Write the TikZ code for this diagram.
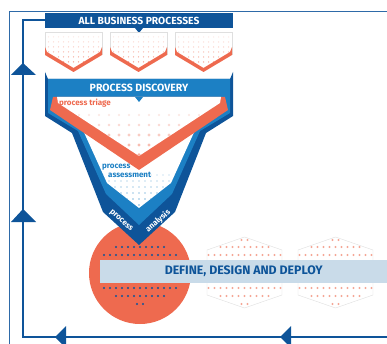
\documentclass[tikz,border=0pt]{standalone}
\usepackage{fontspec}
\setmainfont{Fira Sans}
\definecolor{dkblue}{RGB}{14,84,153}
\definecolor{mdblue}{RGB}{28,128,196}
\definecolor{orng}{RGB}{238,106,79}
\definecolor{ltblue}{RGB}{201,219,233}
\definecolor{framecol}{RGB}{46,106,168}
\tikzset{
  loopline/.style={dkblue,line width=2pt},
  looptip/.style={fill=dkblue},
  dotrow/.style={fill=#1},
  label/.style={inner sep=0pt,font=\bfseries\fontsize{#1}{#1}\selectfont}
}
\begin{document}
\begin{tikzpicture}[x=1pt,y=-1pt]
        \useasboundingbox (0,0) rectangle (387,344);
        % outer frame
        \draw[framecol,line width=1pt] (387,12) -- (9,12) -- (9,344);

        % top bar
        \node[label=10.3,fill=dkblue,text=white,minimum width=188pt,minimum height=15pt](abp)at(139,20.5){ALL BUSINESS PROCESSES};
        \fill[dkblue] (135,28) -- (143,28) -- (139,33) -- cycle;

        % feedback loop
        \coordinate (loopstart) at (387,337);
        \coordinate (loopcorner) at (23,337);
        \draw[loopline] (loopstart) -- (loopcorner) |- (abp.west);
        \fill[looptip] (23,63) -- (11,75) -- (36,75) -- cycle;
        \fill[looptip] (23,209) -- (11,222) -- (36,222) -- cycle;
        \fill[looptip] (55,337) -- (66,326) -- (66,348) -- cycle;
        \fill[looptip] (280,337) -- (291,326) -- (291,348) -- cycle;

        % business processes
        \foreach \px in {45,110,175}{
          \draw[gray!25,line width=0.4pt] (\px,55) -- (\px,32) -- (\px+57,32) -- (\px+57,55);
          \begin{scope}
            \clip (\px,32) -- (\px+57,32) -- (\px+57,55) -- (\px+28.5,72) -- (\px,55) -- cycle;
            \foreach \yy/\c in {37/14,42/22,47/30,52/40,57/50,62/60}
              \foreach \k in {1,...,11} \fill[orng!\c] (\px+\k*5-1.5,\yy) circle (0.75pt);
          \end{scope}
          \fill[orng] (\px,47) -- (\px,55) -- (\px+28.5,72) -- (\px+57,55) -- (\px+57,47) -- (\px+55,52) -- (\px+28.5,68) -- (\px+2,52) -- cycle;
        }

        % deploy circle and stages
        \fill[orng] (140,273) circle (51pt);
        \foreach \cx in {244.5,335.5}
          \draw[gray!25,line width=0.4pt,fill=white] (\cx,237) -- (\cx+37.5,250) -- (\cx+37.5,295) -- (\cx,308) -- (\cx-37.5,295) -- (\cx-37.5,250) -- cycle;
        \foreach \cx/\col in {140/dkblue,244.5/orng!60,335.5/orng!60}{
          \fill[dotrow=\col] (\cx-3,240) circle (1.1pt) (\cx+3,240) circle (1.1pt);
          \fill[dotrow=\col] (\cx-3,304) circle (1.1pt) (\cx+3,304) circle (1.1pt);
          \foreach \yy/\n in {247/4,255/6,288/6,296/4}
            \foreach \k in {-\n,...,\n} \fill[dotrow=\col] (\cx+\k*6,\yy) circle (1.1pt);
        }

        % funnel
        \fill[dkblue] (45,72) -- (45,116) -- (72,133) -- (103,212) -- (139,245) -- (175,212) -- (206,133) -- (233,116) -- (233,72) -- (230,79) -- (48,79) -- cycle;
        \fill[mdblue] (48,79) -- (230,79) -- (230,113) -- (200,131) -- (172,194) -- (139,225) -- (106,194) -- (78,131) -- (48,113) -- cycle;
        \fill[white] (82,128) -- (107,183) -- (139,208) -- (171,183) -- (196,128) -- cycle;
        \begin{scope}
          \clip (82,128) -- (107,183) -- (139,208) -- (171,183) -- (196,128) -- cycle;
          \foreach \yy/\c in {175/20,181/28,187/36,193/44,199/52,205/60}
            \foreach \k in {-9,...,9} \fill[mdblue!\c] (139+\k*6,\yy) circle (0.9pt);
        \end{scope}
        \fill[orng] (53,97) -- (225,97) -- (228,110) -- (139,170) -- (50,110) -- cycle;
        \fill[white] (57,97) -- (221,97) -- (220,103) -- (139,156) -- (58,103) -- cycle;
        \begin{scope}
          \clip (57,97) -- (221,97) -- (220,103) -- (139,156) -- (58,103) -- cycle;
          \foreach \yy/\c/\r in {115/18/1.2,125/26/1.4,135/34/1.6,145/44/1.7,155/55/1.8}
            \foreach \k in {-8,...,8} \fill[orng!\c] (139+\k*10,\yy) circle (\r pt);
        \end{scope}
        \fill[mdblue] (135,97) -- (143,97) -- (139,102) -- cycle;

        \node[label=10.5,text=white](disc)at(139,88){PROCESS DISCOVERY};
        \node[label=8,text=orng,anchor=west](triage)at(59,103){process triage};
        \node[label=8,text=mdblue,anchor=north west,align=left](assess)at(102,164){process\\[1pt]\hspace*{6pt}assessment};
        \node[label=8,text=white,rotate=-41](proc)at(121,221){process};
        \node[label=8,text=white,rotate=41](anal)at(158,221){analysis};

        % deploy band
        \node[label=12.3,fill=ltblue,text=dkblue,minimum width=287pt,minimum height=23pt,anchor=west](deploy)at(100,271.5){DEFINE, DESIGN AND DEPLOY};
\end{tikzpicture}
\end{document}
